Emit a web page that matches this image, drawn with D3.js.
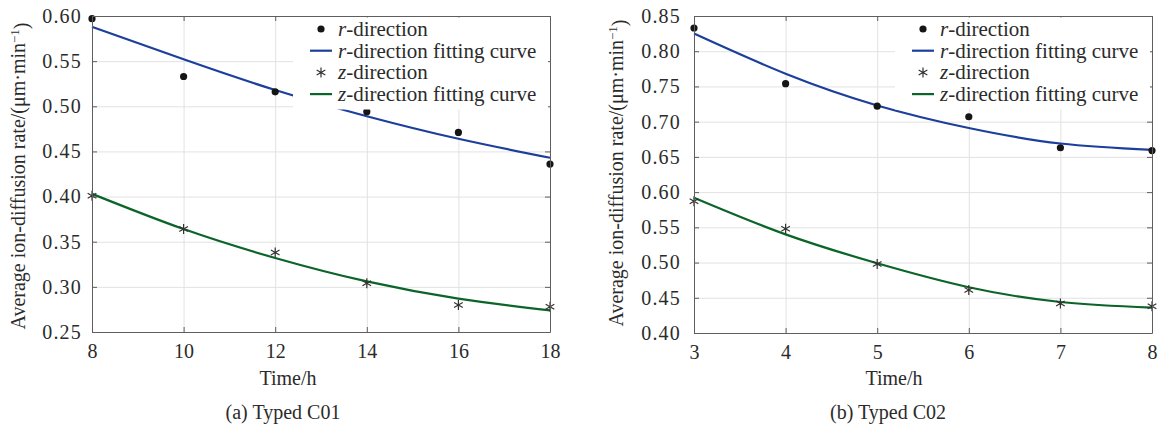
<!DOCTYPE html>
<meta charset="utf-8">
<style>
body { margin: 0; background: #fff; }
svg { font-family: "Times New Roman", "Liberation Serif", "DejaVu Serif", serif; }
svg text { font-family: "Times New Roman", "Liberation Serif", "DejaVu Serif", serif; fill: #2b2b2b; }
.axis path, .axis line { stroke: #5e5e5e; }
.axis text { font-size: 20px; }
.yaxis text { letter-spacing: 1.2px; }
.grid line { stroke: #e2e2e2; }
.grid path { display: none; }
.fit { fill: none; stroke-width: 2.2px; }
</style>
<body>
<script src="https://d3js.org/d3.v7.min.js" charset="utf-8"></script>
<script>
// ---- data ----
// (a) Typed C01
var timeC01 = [8, 10, 12, 14, 16, 18];
var rC01    = [0.597, 0.533, 0.516, 0.494, 0.471, 0.436];
var zC01    = [0.401, 0.364, 0.338, 0.304, 0.280, 0.278];
var rFitC01 = [0.588, 0.552, 0.518, 0.489, 0.464, 0.443];
var zFitC01 = [0.403, 0.364, 0.332, 0.306, 0.287, 0.274];
var xTicksC01 = [8, 10, 12, 14, 16, 18];
var yTicksC01 = [0.25, 0.30, 0.35, 0.40, 0.45, 0.50, 0.55, 0.60];

// (b) Typed C02
var timeC02 = [3, 4, 5, 6, 7, 8];
var rC02    = [0.833, 0.754, 0.722, 0.707, 0.663, 0.659];
var zC02    = [0.587, 0.548, 0.498, 0.461, 0.442, 0.438];
var rFitC02 = [0.825, 0.768, 0.723, 0.691, 0.669, 0.660];
var zFitC02 = [0.592, 0.540, 0.499, 0.465, 0.444, 0.436];
var xTicksC02 = [3, 4, 5, 6, 7, 8];
var yTicksC02 = [0.40, 0.45, 0.50, 0.55, 0.60, 0.65, 0.70, 0.75, 0.80, 0.85];

var legendItems = [
  { kind: "dot",  ital: "r", rest: "-direction" },
  { kind: "rfit", ital: "r", rest: "-direction fitting curve" },
  { kind: "star", ital: "z", rest: "-direction" },
  { kind: "zfit", ital: "z", rest: "-direction fitting curve" }
];

var blue = "#1c3f9c", green = "#0b6428";

var svg = d3.select("body").append("svg")
    .attr("width", 1162)
    .attr("height", 425);

function zip(xs, ys) { return xs.map(function(v, i) { return { t: v, v: ys[i] }; }); }

function drawPanel(p) {
  var x = d3.scaleLinear().domain(d3.extent(p.xTicks)).range([p.left, p.right]);
  var y = d3.scaleLinear().domain(d3.extent(p.yTicks)).range([p.bottom, p.top]);
  var g = svg.append("g");

  // grid lines
  g.append("g").attr("class", "grid")
      .attr("transform", "translate(0," + p.bottom + ")")
      .call(d3.axisBottom(x).tickValues(p.xTicks).tickSize(-(p.bottom - p.top)).tickFormat(""));
  g.append("g").attr("class", "grid")
      .attr("transform", "translate(" + p.left + ",0)")
      .call(d3.axisLeft(y).tickValues(p.yTicks).tickSize(-(p.right - p.left)).tickFormat(""));

  // fitting curves
  var line = d3.line()
      .x(function(d) { return x(d.t); })
      .y(function(d) { return y(d.v); })
      .curve(d3.curveNatural);
  g.append("path").datum(zip(p.time, p.rFit)).attr("class", "fit").attr("stroke", blue).attr("d", line);
  g.append("path").datum(zip(p.time, p.zFit)).attr("class", "fit").attr("stroke", green).attr("d", line);

  // measured points
  g.selectAll(".dot").data(zip(p.time, p.r)).enter().append("circle")
      .attr("cx", function(d) { return x(d.t); })
      .attr("cy", function(d) { return y(d.v); })
      .attr("r", 3.6).attr("fill", "#151515");
  var star = d3.symbol().type(d3.symbolAsterisk).size(70);
  g.selectAll(".star").data(zip(p.time, p.z)).enter().append("path")
      .attr("transform", function(d) { return "translate(" + x(d.t) + "," + y(d.v) + ")"; })
      .attr("d", star).attr("fill", "none").attr("stroke", "#333").attr("stroke-width", 1.2);

  // axes (box with inward ticks)
  g.append("g").attr("class", "axis")
      .attr("transform", "translate(0," + p.bottom + ")")
      .call(d3.axisBottom(x).tickValues(p.xTicks).tickSizeInner(-5).tickSizeOuter(0).tickPadding(12).tickFormat(d3.format("d")));
  g.append("g").attr("class", "axis yaxis")
      .attr("transform", "translate(" + p.left + ",0)")
      .call(d3.axisLeft(y).tickValues(p.yTicks).tickSizeInner(-5).tickSizeOuter(0).tickPadding(p.yPad).tickFormat(d3.format(".2f")));
  g.append("g").attr("class", "axis")
      .attr("transform", "translate(0," + p.top + ")")
      .call(d3.axisTop(x).tickValues(p.xTicks).tickSizeInner(-5).tickSizeOuter(0).tickFormat(""));
  g.append("g").attr("class", "axis")
      .attr("transform", "translate(" + p.right + ",0)")
      .call(d3.axisRight(y).tickValues(p.yTicks).tickSizeInner(-5).tickSizeOuter(0).tickFormat(""));

  // axis titles and caption
  var yl = g.append("text")
      .attr("transform", "translate(" + p.yLabelX + "," + p.yLabelY + ") rotate(-90)")
      .attr("text-anchor", "middle").attr("dy", "0.35em")
      .style("font-size", "20px");
  yl.append("tspan").text("Average ion-diffusion rate/(\u03bcm\u00b7min");
  yl.append("tspan").attr("dy", "-0.45em").style("font-size", "13px").text("\u22121");
  yl.append("tspan").attr("dy", "0.45em").text(")");

  g.append("text").attr("x", p.xLabelX).attr("y", 385)
      .attr("text-anchor", "middle").style("font-size", "20px").text("Time/h");
  g.append("text").attr("x", p.captionX).attr("y", 419)
      .attr("text-anchor", "middle").style("font-size", "20px").text(p.caption);

  // legend
  var lg = g.append("g").attr("transform", "translate(" + (p.right - 240) + "," + p.top + ")");
  lg.append("rect").attr("x", -17).attr("y", 1.5).attr("width", 255).attr("height", 92).attr("fill", "#fff");
  legendItems.forEach(function(it, i) {
    var ry = 13 + i * 21.7;
    if (it.kind == "dot") {
      lg.append("circle").attr("cx", 11).attr("cy", ry).attr("r", 3.6).attr("fill", "#151515");
    } else if (it.kind == "star") {
      lg.append("path").attr("transform", "translate(11," + ry + ")").attr("d", star)
        .attr("fill", "none").attr("stroke", "#333").attr("stroke-width", 1.2);
    } else {
      lg.append("line").attr("x1", 0).attr("x2", 22).attr("y1", ry).attr("y2", ry)
        .attr("stroke", it.kind == "rfit" ? blue : green).attr("stroke-width", 2.2);
    }
    var t = lg.append("text").attr("x", 28).attr("y", ry).attr("dy", "0.33em").style("font-size", "21px");
    t.append("tspan").style("font-style", "italic").text(it.ital);
    t.append("tspan").text(it.rest);
  });
}

drawPanel({
  time: timeC01, r: rC01, z: zC01, rFit: rFitC01, zFit: zFitC01,
  xTicks: xTicksC01, yTicks: yTicksC01,
  left: 92, right: 550, top: 16, bottom: 332, yPad: 10,
  yLabelX: 18, yLabelY: 176, xLabelX: 288, captionX: 283, caption: "(a) Typed C01"
});

drawPanel({
  time: timeC02, r: rC02, z: zC02, rFit: rFitC02, zFit: zFitC02,
  xTicks: xTicksC02, yTicks: yTicksC02,
  left: 694, right: 1152, top: 16, bottom: 333, yPad: 13,
  yLabelX: 616, yLabelY: 173, xLabelX: 894, captionX: 888, caption: "(b) Typed C02"
});
</script>
</body>
